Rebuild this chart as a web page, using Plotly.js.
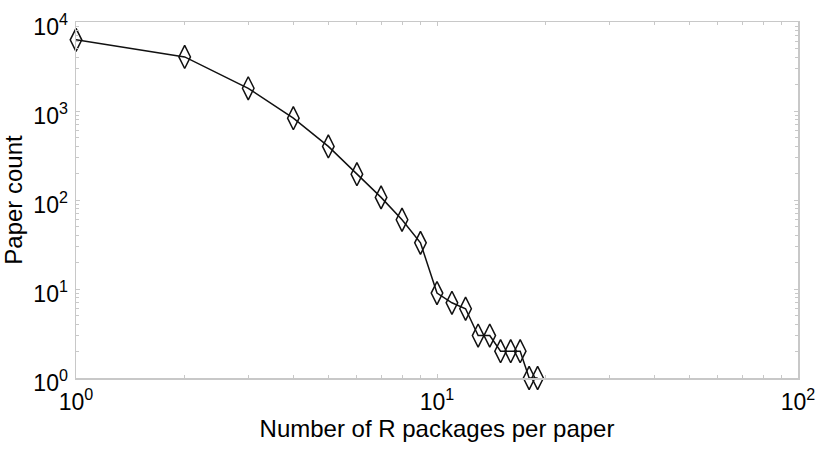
<!DOCTYPE html>
<html>
<head>
<meta charset="utf-8">
<script src="https://cdn.plot.ly/plotly-3.0.1.min.js"></script>
<style>html,body{margin:0;padding:0;background:#fff;}#chart{width:817px;height:454px;}</style>
</head>
<body>
<div id="chart"></div>
<script>
// Number of R packages per paper
var packagesPerPaper = [1, 2, 3, 4, 5, 6, 7, 8, 9, 10, 11, 12, 13, 14, 15, 16, 17, 18, 19];
// Paper count
var paperCount = [6300, 4050, 1800, 830, 400, 195, 107, 60, 33, 9, 7, 6, 3, 3, 2, 2, 2, 1, 1];

var xTickVals = [1, 10, 100];
var xTickText = ['10<sup>0</sup>', '10<sup>1</sup>', '10<sup>2</sup>'];
var yTickVals = [1, 10, 100, 1000, 10000];
var yTickText = ['10<sup>0</sup>', '10<sup>1</sup>', '10<sup>2</sup>', '10<sup>3</sup>', '10<sup>4</sup>'];

var axisColor = '#c8c8c8';
var fontFamily = 'Liberation Sans, Arial, Helvetica, sans-serif';

var trace = {
  x: packagesPerPaper,
  y: paperCount,
  type: 'scatter',
  mode: 'lines+markers',
  line: {color: '#111', width: 1.5},
  marker: {symbol: 'diamond-tall-open', size: 16.5, color: '#111', line: {color: '#111', width: 1.5}},
  cliponaxis: false,
  hoverinfo: 'x+y'
};

var commonAxis = {
  type: 'log',
  tickmode: 'array',
  showline: true,
  linecolor: axisColor,
  linewidth: 1.5,
  mirror: 'allticks',
  ticks: 'inside',
  ticklen: 4,
  tickwidth: 1,
  tickcolor: axisColor,
  showgrid: false,
  zeroline: false,
  tickfont: {family: fontFamily, size: 23, color: '#000'},
  minor: {ticks: 'inside', ticklen: 3, tickwidth: 1, tickcolor: axisColor, dtick: 'D1', showgrid: false}
};

var layout = {
  width: 817,
  height: 454,
  margin: {l: 76, r: 19, t: 22, b: 76},
  paper_bgcolor: '#fff',
  plot_bgcolor: '#fff',
  showlegend: false,
  font: {family: fontFamily, color: '#000'},
  xaxis: Object.assign({}, commonAxis, {
    range: [0, 2],
    tickvals: xTickVals,
    ticktext: xTickText,
    ticklabelstandoff: 3,
    title: {text: 'Number of R packages per paper', font: {family: fontFamily, size: 24, color: '#000'}, standoff: 6}
  }),
  yaxis: Object.assign({}, commonAxis, {
    range: [0, 4],
    tickvals: yTickVals,
    ticktext: yTickText,
    ticklabelshift: 5,
    ticklabelstandoff: 2,
    title: {text: 'Paper count', font: {family: fontFamily, size: 24, color: '#000'}, standoff: 4}
  })
};

Plotly.newPlot('chart', [trace], layout, {displayModeBar: false, staticPlot: true});
</script>
</body>
</html>
